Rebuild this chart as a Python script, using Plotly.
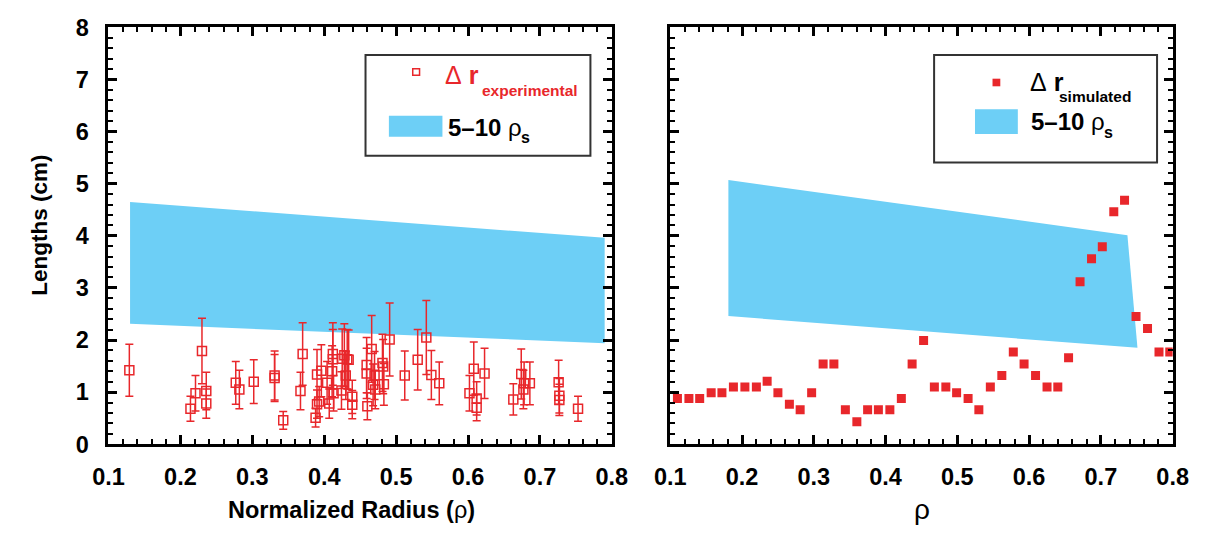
import plotly.graph_objects as go

# ---- experimental radial widths (left panel) ----
exp_rho = [0.129, 0.214, 0.221, 0.230, 0.236, 0.236, 0.277, 0.282, 0.302, 0.331,
           0.331, 0.343, 0.367, 0.370, 0.388, 0.390, 0.390, 0.393, 0.396, 0.404,
           0.407, 0.411, 0.412, 0.412, 0.413, 0.424, 0.425, 0.428, 0.430, 0.432,
           0.434, 0.439, 0.439, 0.459, 0.459, 0.460, 0.466, 0.468, 0.470, 0.471,
           0.481, 0.482, 0.483, 0.491, 0.512, 0.530, 0.542, 0.549, 0.560, 0.602,
           0.608, 0.612, 0.612, 0.623, 0.663, 0.674, 0.677, 0.678, 0.686, 0.726,
           0.727, 0.727, 0.753]
exp_dr = [1.42, 0.68, 0.98, 1.79, 1.02, 0.78, 1.18, 1.05, 1.20, 1.32,
          1.27, 0.46, 1.02, 1.73, 0.51, 0.77, 1.34, 0.82, 1.41, 1.18,
          0.78, 1.40, 1.73, 1.63, 0.98, 1.03, 1.64, 1.71, 1.32, 1.63,
          1.62, 0.91, 0.76, 1.52, 1.36, 0.73, 1.83, 1.14, 1.32, 1.05,
          1.56, 1.49, 1.15, 2.01, 1.32, 1.62, 2.05, 1.33, 1.17, 0.98,
          1.45, 0.88, 0.70, 1.36, 0.86, 1.35, 1.05, 1.17, 1.17, 1.19,
          0.93, 0.85, 0.68]
exp_err = [0.50, 0.24, 0.34, 0.63, 0.36, 0.28, 0.41, 0.37, 0.42, 0.47,
           0.45, 0.17, 0.36, 0.60, 0.18, 0.27, 0.48, 0.29, 0.50, 0.41,
           0.28, 0.49, 0.60, 0.57, 0.34, 0.36, 0.57, 0.60, 0.46, 0.57,
           0.57, 0.32, 0.27, 0.53, 0.48, 0.26, 0.64, 0.40, 0.46, 0.37,
           0.55, 0.52, 0.40, 0.70, 0.47, 0.58, 0.71, 0.47, 0.41, 0.34,
           0.51, 0.32, 0.25, 0.48, 0.30, 0.48, 0.37, 0.41, 0.41, 0.42,
           0.33, 0.30, 0.24]

# ---- simulated radial widths (right panel) ----
sim_rho = [0.110, 0.126, 0.141, 0.157, 0.172, 0.188, 0.204, 0.220, 0.235, 0.250,
           0.266, 0.281, 0.297, 0.313, 0.328, 0.344, 0.360, 0.375, 0.390, 0.406,
           0.422, 0.437, 0.453, 0.468, 0.484, 0.499, 0.515, 0.530, 0.546, 0.562,
           0.578, 0.593, 0.609, 0.625, 0.640, 0.655, 0.671, 0.687, 0.702, 0.718,
           0.733, 0.749, 0.765, 0.781, 0.796]
sim_dr = [0.88, 0.88, 0.88, 0.99, 0.99, 1.10, 1.10, 1.10, 1.21, 0.99,
          0.77, 0.66, 0.99, 1.54, 1.54, 0.66, 0.43, 0.66, 0.66, 0.66,
          0.88, 1.54, 1.99, 1.10, 1.10, 0.99, 0.88, 0.66, 1.10, 1.32,
          1.77, 1.54, 1.32, 1.10, 1.10, 1.66, 3.12, 3.56, 3.79, 4.46,
          4.68, 2.45, 2.22, 1.77, 1.77]

# ---- 5-10 rho_s bands (polygon corners) ----
band_exp_x = [0.13, 0.79, 0.79, 0.13]
band_exp_y = [4.65, 3.96, 1.94, 2.31]
band_sim_x = [0.181, 0.737, 0.751, 0.181]
band_sim_y = [5.07, 4.01, 1.85, 2.46]

RED = "#e8272b"
BLUE = "#6dcff6"
FONT = "Liberation Sans, Arial, Helvetica, sans-serif"
W, H = 1212, 542

RHO = '<span style="font-weight:normal">\u03c1</span>'
DELTA = '<span style="font-weight:normal">\u0394</span>'


def px(x):
    return x / W


def py(y):
    return 1 - y / H


fig = go.Figure()

fig.add_trace(go.Scatter(x=band_exp_x, y=band_exp_y, fill="toself", fillcolor=BLUE,
                         line=dict(width=0), mode="lines", hoverinfo="skip",
                         xaxis="x", yaxis="y", showlegend=False))
fig.add_trace(go.Scatter(x=exp_rho, y=exp_dr, mode="markers",
                         marker=dict(symbol="square-open", size=9, color=RED,
                                     line=dict(width=1.5, color=RED)),
                         error_y=dict(type="data", array=exp_err, visible=True,
                                      color=RED, thickness=1.5, width=4),
                         xaxis="x", yaxis="y", showlegend=False))

fig.add_trace(go.Scatter(x=band_sim_x, y=band_sim_y, fill="toself", fillcolor=BLUE,
                         line=dict(width=0), mode="lines", hoverinfo="skip",
                         xaxis="x2", yaxis="y2", showlegend=False))
fig.add_trace(go.Scatter(x=sim_rho, y=sim_dr, mode="markers",
                         marker=dict(symbol="square", size=9, color=RED, line=dict(width=0)),
                         xaxis="x2", yaxis="y2", showlegend=False))

tickfont = dict(family=FONT, size=23.5, color="black", weight="bold")
common_x = dict(range=[0.1, 0.8], tick0=0.1, dtick=0.1, ticks="inside", ticklen=9,
                tickwidth=2.5, tickcolor="black", showline=True, linewidth=3,
                linecolor="black", mirror="ticks", showgrid=False, zeroline=False,
                tickfont=tickfont, ticklabelstandoff=10,
                minor=dict(dtick=0.02, ticks="inside", ticklen=5, tickwidth=2,
                           tickcolor="black", showgrid=False))
common_y = dict(range=[0, 8], tick0=0, dtick=1, ticks="inside", ticklen=9,
                tickwidth=2.5, tickcolor="black", showline=True, linewidth=3,
                linecolor="black", mirror="ticks", showgrid=False, zeroline=False,
                tickfont=tickfont, ticklabelstandoff=12,
                minor=dict(dtick=0.2, ticks="inside", ticklen=5, tickwidth=2,
                           tickcolor="black", showgrid=False))

ydom = [py(453), py(15)]
fig.update_layout(
    width=W, height=H, margin=dict(l=0, r=0, t=0, b=0),
    paper_bgcolor="white", plot_bgcolor="white",
    xaxis=dict(domain=[px(95), px(612)], anchor="y", **common_x),
    yaxis=dict(domain=ydom, anchor="x", **common_y),
    xaxis2=dict(domain=[px(672), px(1188)], anchor="y2", **common_x),
    yaxis2=dict(domain=ydom, anchor="x2", showticklabels=False, **common_y),
)

shapes = []
ann = []


def text(x, y, s, size, color="black", bold=True, anchor="left", angle=0):
    f = dict(family=FONT, size=size, color=color)
    if bold:
        f["weight"] = "bold"
    ann.append(dict(x=px(x), y=py(y), text=s, showarrow=False, textangle=angle,
                    xref="paper", yref="paper", xanchor=anchor, yanchor="middle", font=f))


def rect(x0, x1, y0, y1, **kw):
    shapes.append(dict(type="rect", xref="paper", yref="paper",
                       x0=px(x0), x1=px(x1), y0=py(y1), y1=py(y0), **kw))


# axis titles
text(24, 223, "Lengths (cm)", 22.5, anchor="center", angle=-90)
text(345, 522, "Normalized Radius (" + RHO + ")", 23.5, anchor="center")
text(931, 522, "\u03c1", 28, bold=False, anchor="center")

# legend of left panel
rect(359, 590, 44, 150, line=dict(color="#333", width=2))
rect(407.5, 414.5, 58.5, 65.5, line=dict(color=RED, width=1.5))
text(439, 65, DELTA + " r", 25, color=RED)
text(477, 81, "experimental", 15.5, color=RED)
rect(383, 438, 108, 130, fillcolor=BLUE, line=dict(width=0))
text(442, 120, "5\u201310 " + RHO, 24)
text(517, 131, "s", 16)

# legend of right panel
rect(943, 1172, 44, 157, line=dict(color="#333", width=2))
rect(1003, 1011, 69, 77, fillcolor=RED, line=dict(width=0))
text(1039, 72, DELTA + " r", 25)
text(1069, 88, "simulated", 15.5)
rect(985, 1029, 101, 127, fillcolor=BLUE, line=dict(width=0))
text(1040, 114, "5\u201310 " + RHO, 24)
text(1115, 126, "s", 16)

fig.update_layout(shapes=shapes, annotations=ann)
fig.write_html("out.html")
